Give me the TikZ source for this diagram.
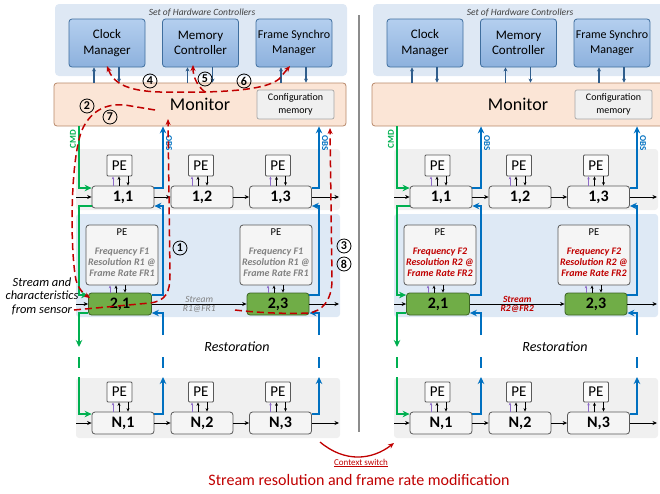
\documentclass[tikz,border=0pt]{standalone}
\usepackage{fontspec}
\setmainfont{Carlito}
\usepackage{tikz}
\usetikzlibrary{arrows.meta,shapes,positioning,calc}

\definecolor{hwbg}{HTML}{DEE8F4}
\definecolor{ctrltop}{HTML}{B4CFEF}
\definecolor{ctrlbot}{HTML}{8DB1DD}
\definecolor{ctrlline}{HTML}{3F6E9E}
\definecolor{linkblue}{HTML}{2F5D8C}
\definecolor{monfill}{HTML}{FBE5D6}
\definecolor{monline}{HTML}{B8896A}
\definecolor{cfgfill}{HTML}{F0F0F0}
\definecolor{rowgray}{HTML}{F0F0F0}
\definecolor{rowblue}{HTML}{DEE9F5}
\definecolor{cellfill}{HTML}{F5F5F5}
\definecolor{cellline}{HTML}{595959}
\definecolor{cellgreen}{HTML}{70AD47}
\definecolor{greenline}{HTML}{3B6324}
\definecolor{cmdgreen}{HTML}{00B050}
\definecolor{obsblue}{HTML}{0070C0}
\definecolor{ctxred}{HTML}{C00000}
\definecolor{pegray}{HTML}{808080}
\definecolor{purp}{HTML}{8E6BC8}

\tikzset{
  hwtitle/.style={font=\fontsize{9.5}{11}\selectfont\itshape,text=black!75,inner sep=0pt},
  ctrl/.style={draw=ctrlline,line width=0.8pt,rounded corners=3pt,top color=ctrltop,bottom color=ctrlbot,
    minimum width=76pt,minimum height=48pt,align=center,inner sep=1pt,font=\fontsize{13}{15.5}\selectfont},
  monbox/.style={draw=monline,fill=monfill,line width=0.8pt,rounded corners=3pt,
    minimum width=292pt,minimum height=43pt,font=\fontsize{18}{20}\selectfont},
  cfgbox/.style={draw=black!35,fill=cfgfill,line width=0.7pt,rounded corners=2pt,
    minimum width=77pt,minimum height=29pt,align=center,inner sep=1pt,font=\fontsize{10}{12.5}\selectfont},
  hwlink/.style={draw=linkblue,line width=1.1pt,>={Stealth[length=4pt,width=4pt]}},
  cell/.style={draw=cellline,fill=cellfill,line width=0.8pt,rounded corners=3pt,
    minimum width=62pt,minimum height=22pt,inner sep=0pt,font=\fontsize{16}{18}\selectfont\bfseries},
  cellok/.style={fill=cellgreen,draw=greenline},
  pesmall/.style={draw=cellline,fill=white!60!cellfill,line width=0.8pt,rounded corners=1pt,
    minimum width=25pt,minimum height=21pt,inner sep=0pt,font=\fontsize{15}{17}\selectfont},
  pebig/.style={draw=cellline,fill=cellfill,line width=0.8pt,rounded corners=3pt,
    minimum width=72pt,minimum height=60pt},
  petitle/.style={font=\fontsize{10.5}{12}\selectfont,inner sep=0pt},
  peold/.style={font=\fontsize{10}{11}\selectfont\bfseries\itshape,text=pegray,align=center,inner sep=0pt},
  penew/.style={font=\fontsize{10}{11}\selectfont\bfseries\itshape,text=ctxred,align=center,inner sep=0pt},
  streamold/.style={font=\fontsize{9.5}{11}\selectfont\itshape,text=pegray,inner sep=1pt},
  streamnew/.style={font=\fontsize{9.5}{11}\selectfont\bfseries\itshape,text=ctxred,inner sep=1pt},
  flow/.style={draw=black,line width=0.9pt,>={Stealth[length=4.5pt,width=4pt]}},
  purlink/.style={draw=purp,line width=0.7pt,>={Stealth[length=3pt,width=2.5pt]}},
  blklink/.style={draw=black,line width=0.8pt,>={Stealth[length=3.5pt,width=3pt]}},
  cmd/.style={draw=cmdgreen,line width=2pt,>={Stealth[length=7pt,width=6.5pt]}},
  obs/.style={draw=obsblue,line width=2pt,>={Stealth[length=7pt,width=6.5pt]}},
  cmdlabel/.style={text=cmdgreen,font=\fontsize{9}{10}\selectfont\bfseries,inner sep=0pt},
  obslabel/.style={text=obsblue,font=\fontsize{9}{10}\selectfont\bfseries,inner sep=0pt},
  restore/.style={font=\fontsize{14}{16}\selectfont\itshape},
  ctx/.style={draw=ctxred,line width=1.5pt,dash pattern=on 7pt off 4pt,>={Stealth[length=6pt,width=5pt]}},
  stepmark/.style={circle,draw=black,line width=0.8pt,minimum size=14pt,inner sep=0pt,
    font=\fontsize{12}{12}\selectfont\bfseries},
  sensortext/.style={font=\fontsize{12.5}{13.5}\selectfont\itshape,align=center},
  sepline/.style={draw=black!45,line width=1.6pt},
  ctxarrow/.style={draw=ctxred,line width=1.3pt,>={Stealth[length=6pt,width=5pt]}},
  ctxsmall/.style={text=ctxred,font=\fontsize{9}{10}\selectfont},
  ctxbig/.style={text=ctxred,font=\fontsize{16}{18}\selectfont},
}

% one monitored platform: shift, name prefix, PE text style, stream style, index
\newcommand{\drawPanel}[5]{
  \begin{scope}[shift={(#1,0)},name prefix=#2-]
    % --- Backgrounds ---
    \fill[hwbg,rounded corners=4pt] (55,4) rectangle (347,76);
    \fill[rowgray,rounded corners=3pt] (76,149) rectangle (340,210);
    \fill[rowblue,rounded corners=3pt] (76,214) rectangle (340,317);
    \fill[rowgray,rounded corners=3pt] (76,378) rectangle (340,438);
    \node[hwtitle] (title) at (202,13) {Set of Hardware Controllers};
    % --- Controllers and monitor ---
    \node[ctrl] (clk) at (107,43) {Clock\\Manager};
    \node[ctrl] (mem) at (200.5,43) {Memory\\Controller};
    \node[ctrl,font=\fontsize{12}{14.5}\selectfont] (fsm) at (294,43) {Frame Synchro\\Manager};
    \node[monbox] (mon) at (200,104.5) {Monitor};
    \node[cfgbox] (cfg) at (295.5,104.5) {Configuration\\memory};
    \foreach \c in {clk,mem,fsm}{
      \draw[hwlink,->] ([xshift=-13pt]\c.south |- mon.north) -- ([xshift=-13pt]\c.south);
      \draw[hwlink,->] ([xshift=12pt]\c.south) -- ([xshift=12pt]\c.south |- mon.north);
    }
    % --- Cells ---
    \node[cell] (c11) at (123,197) {1,1};
    \node[cell] (c12) at (202,197) {1,2};
    \node[cell] (c13) at (280.5,197) {1,3};
    \node[cell,cellok,minimum width=63pt] (c21) at (120,304) {2,1};
    \node[cell,cellok] (c23) at (278,304) {2,3};
    \node[cell] (cN1) at (123,423) {N,1};
    \node[cell] (cN2) at (202,423) {N,2};
    \node[cell] (cN3) at (280.5,423) {N,3};
    % --- Processing elements ---
    \node[pesmall] (pe11) at (119.5,165.5) {PE};
    \node[pesmall] (pe12) at (201,165.5) {PE};
    \node[pesmall] (pe13) at (278,165.5) {PE};
    \node[pebig] (pe21) at (122,255) {};
    \node[pebig] (pe23) at (276,255) {};
    \node[pesmall,minimum height=20pt] (peN1) at (119.5,392) {PE};
    \node[pesmall,minimum height=20pt] (peN2) at (201,392) {PE};
    \node[pesmall,minimum height=20pt] (peN3) at (278,392) {PE};
    \foreach \p in {pe21,pe23}{
      \node[petitle,below=3.5pt of \p.north] (\p t) {PE};
      \node[#3] (\p x) at ([yshift=-7pt]\p.center) {Frequency F#5\\Resolution R#5 @\\Frame Rate FR#5};
    }
    \foreach \p/\c in {pe11/c11,pe12/c12,pe13/c13,pe21/c21,pe23/c23,peN1/cN1,peN2/cN2,peN3/cN3}{
      \draw[purlink,->] ([xshift=-10pt]\c.north) -- ([xshift=-10pt]\c.north |- \p.south);
      \draw[blklink,->] ([xshift=-4pt]\c.north) -- ([xshift=-4pt]\c.north |- \p.south);
      \draw[blklink,->] ([xshift=5pt]\c.north |- \p.south) -- ([xshift=5pt]\c.north);
    }
    % --- Data flow ---
    \coordinate (inx) at (76,0);
    \coordinate (outx) at (339,0);
    \draw[flow,->] (inx |- c11) -- (c11);
    \draw[flow,->] (c11) -- (c12);
    \draw[flow,->] (c12) -- (c13);
    \draw[flow,->] (c13) -- (outx |- c13);
    \draw[flow,->] (inx |- c21) -- (c21);
    \draw[flow,->] (c21) -- node[#4,above=0pt] (strm) {Stream} node[#4,below=0pt] (rate) {R#5@FR#5} (c23);
    \draw[flow,->] (c23) -- (outx |- c23);
    \draw[flow,->] (inx |- cN1) -- (cN1);
    \draw[flow,->] (cN1) -- (cN2);
    \draw[flow,->] (cN2) -- (cN3);
    \draw[flow,->] (cN3) -- (outx |- cN3);
    % --- CMD and OBS ---
    \coordinate (cmdx) at (79,0);
    \coordinate (obsa) at (163,0);
    \coordinate (obsb) at (319,0);
    \coordinate (btop) at (0,335);
    \coordinate (gtop) at (0,347);
    \coordinate (dtop) at (0,357);
    \coordinate (dbot) at (0,368);
    \coordinate (gbot) at (0,377);
    \draw[cmd,->] (cmdx |- mon.south) |- ([yshift=9pt]c11.west);
    \draw[cmd,->] ([yshift=-9pt]c11.west) -| (cmdx |- c21.north) |- ([yshift=9pt]c21.west);
    \draw[cmd,->] ([yshift=-9pt]c21.west) -| (cmdx |- gtop);
    \draw[cmd] (cmdx |- dtop) -- (cmdx |- dbot);
    \draw[cmd,->] (cmdx |- gbot) |- ([yshift=9pt]cN1.west);
    \foreach \x/\a/\b/\n in {obsa/c11/c21/cN1,obsb/c13/c23/cN3}{
      \draw[obs,->] ([yshift=9pt]\a.east) -| (\x |- mon.south);
      \draw[obs,->] ([yshift=9pt]\b.east) -| (\x |- \a.south) |- ([yshift=-9pt]\a.east);
      \draw[obs,->] (\x |- btop) |- ([yshift=-9pt]\b.east);
      \draw[obs] (\x |- dtop) -- (\x |- dbot);
      \draw[obs,->] ([yshift=9pt]\n.east) -| (\x |- gbot);
    }
    \node[cmdlabel,rotate=90] (cmdt) at (73,139) {CMD};
    \node[obslabel,rotate=-90] (obst) at (169,143) {OBS};
    \node[obslabel,rotate=-90] (obsu) at (325,143) {OBS};
    \node[restore] (rest) at (237,347) {Restoration};
  \end{scope}
}

\begin{document}
\begin{tikzpicture}[x=1pt,y=-1pt,>=Stealth]
    \clip (0,0) rectangle (660,493);

    % --- Before and after the switch ---
    \drawPanel{0}{L}{peold}{streamold}{1}
    \drawPanel{318}{R}{penew}{streamnew}{2}

    \node[sensortext] (sensor) at (42,296) {Stream and\\characteristics\\from sensor};

    % separation
    \draw[sepline] (359,15) -- (359,432);

    % --- Context switch steps ---
    \draw[ctx,->] (74,310) -- (150,303) .. controls (166,301) and (170,292) .. (170,275) -- (168,119);
    \draw[ctx,->] (155,110) -- (125,105) .. controls (105,103) and (90,112) .. (82,130)
        .. controls (70,160) and (70,250) .. (76,280) .. controls (79,290) and (84,294) .. (90,298);
    \draw[ctx,->] (235,310) .. controls (260,313) and (290,314) .. (308,313)
        .. controls (322,312) and (332,300) .. (332,280) -- (330,128);
    \draw[ctx,<->] (107,66) .. controls (113,82) and (125,91) .. (160,92) -- (205,92)
        .. controls (240,91) and (268,88) .. (279,79) -- (290,66);
    \draw[ctx,->] (205,92) .. controls (197,86) and (193,76) .. (193,65);

    \node[stepmark] (s1) at (180,248) {1};
    \node[stepmark] (s2) at (87,106) {2};
    \node[stepmark] (s3) at (344,246) {3};
    \node[stepmark] (s4) at (150,81) {4};
    \node[stepmark] (s5) at (205,79) {5};
    \node[stepmark] (s6) at (244,81) {6};
    \node[stepmark] (s7) at (110,117) {7};
    \node[stepmark] (s8) at (344,264) {8};

    % Context switch
    \coordinate (swa) at (320,442);
    \coordinate (swb) at (394,443);
    \draw[ctxarrow,->] (swa) .. controls (345,463) and (372,460) .. (swb);
    \node[ctxsmall] (swt) at (361,463) {\underline{Context switch}};
    \node[ctxbig] (swm) at (359,480) {Stream resolution and frame rate modification};

\end{tikzpicture}
\end{document}
